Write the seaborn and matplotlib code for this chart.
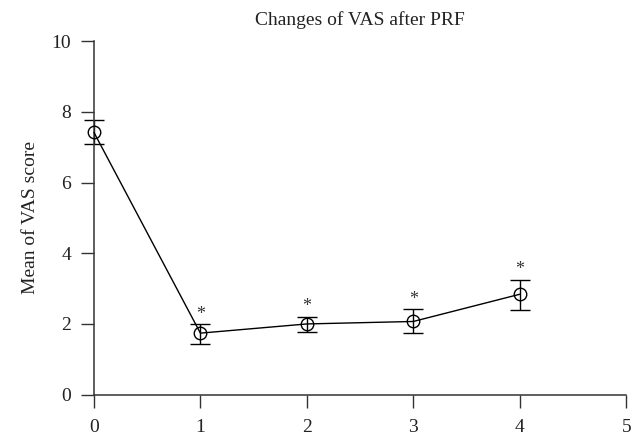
import pandas as pd
import matplotlib
matplotlib.use("Agg")
import matplotlib.pyplot as plt
import seaborn as sns

# Values
time_points = [0, 1, 2, 3, 4]
vas_mean = [7.42, 1.74, 2.00, 2.07, 2.84]
err_low = [7.09, 1.44, 1.78, 1.73, 2.39]
err_high = [7.77, 2.00, 2.21, 2.42, 3.25]
significant = [False, True, True, True, True]

FS = 14


def plot_vas(ax, df):
    """Mean VAS with error bars and significance stars."""
    sns.lineplot(data=df, x="time", y="mean", ax=ax, color="black",
                 linewidth=1.0, marker="o", markersize=9,
                 markerfacecolor="none", markeredgecolor="black",
                 markeredgewidth=1.0, zorder=3)
    yerr = [df["mean"] - df["low"], df["high"] - df["mean"]]
    ax.errorbar(df["time"], df["mean"], yerr=yerr, fmt="none",
                ecolor="black", elinewidth=1.0, capsize=7, capthick=1.0)
    for _, row in df.iterrows():
        if row["sig"]:
            ax.annotate("*", (row["time"], row["high"]), xytext=(0, 1),
                        textcoords="offset points", ha="center", va="bottom",
                        fontsize=13, color="#333333")
    ax.set_xlim(0, 5)
    ax.set_ylim(0, 10)
    ax.set_xticks(range(0, 6))
    ax.set_yticks(range(0, 11, 2))
    ax.set_title("Changes of VAS after PRF", fontsize=FS, pad=12,
                 color="#222222")
    ax.set_xlabel("")
    ax.set_ylabel("Mean of VAS score", fontsize=FS, labelpad=9,
                  color="#222222")
    ax.tick_params(direction="out", length=9.5, width=1.0, labelsize=FS,
                   colors="#333333", labelcolor="#222222")
    ax.tick_params(axis="y", pad=7)
    ax.tick_params(axis="x", pad=8)
    for side in ["top", "right"]:
        ax.spines[side].set_visible(False)
    for side in ["left", "bottom"]:
        ax.spines[side].set_linewidth(1.1)
        ax.spines[side].set_color("#333333")


def main():
    df = pd.DataFrame({"time": time_points, "mean": vas_mean,
                       "low": err_low, "high": err_high, "sig": significant})
    sns.set_style("ticks")
    plt.rcParams["font.family"] = ["Liberation Serif", "DejaVu Serif"]
    fig, ax = plt.subplots(figsize=(6.39, 4.38), dpi=100)
    fig.subplots_adjust(left=0.147, right=0.98, bottom=0.099, top=0.906)
    plot_vas(ax, df)
    for ln in ax.get_lines():
        ln.set_clip_on(False)
    fig.savefig("out.png", dpi=100)


if __name__ == "__main__":
    main()
